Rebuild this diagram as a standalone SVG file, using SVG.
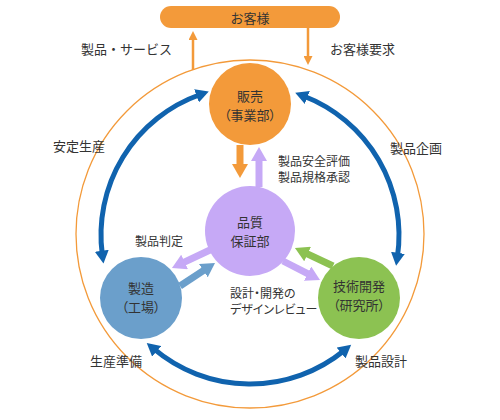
<svg xmlns="http://www.w3.org/2000/svg" width="500" height="420" viewBox="0 0 500 420">
<style>
text{font-family:"Noto Sans CJK JP","Noto Sans",sans-serif;fill:#333;dominant-baseline:central}
.lbl{font-size:13px}
.sm{font-size:12px;font-feature-settings:"palt"}
.node{font-size:13px;text-anchor:middle;font-feature-settings:"palt"}
.arc{fill:none;stroke:#1063ae;stroke-width:5}
.thick{stroke-width:7;fill:none}
.thin{stroke:#f39a3a;stroke-width:2.5;fill:none}
</style>
<defs>
<marker id="hArc" markerUnits="userSpaceOnUse" markerWidth="14" markerHeight="14" refX="4" refY="7" orient="auto-start-reverse" viewBox="0 0 14 14"><path d="M0,0 L13,7 L0,14 z" fill="#1063ae"/></marker>
<marker id="hOr" markerUnits="userSpaceOnUse" markerWidth="15" markerHeight="16" refX="5" refY="8" orient="auto" viewBox="0 0 15 16"><path d="M0,0 L14,8 L0,16 z" fill="#f39a3a"/></marker>
<marker id="hPu" markerUnits="userSpaceOnUse" markerWidth="15" markerHeight="16" refX="5" refY="8" orient="auto" viewBox="0 0 15 16"><path d="M0,0 L14,8 L0,16 z" fill="#c6a9f6"/></marker>
<marker id="hBl" markerUnits="userSpaceOnUse" markerWidth="15" markerHeight="16" refX="5" refY="8" orient="auto" viewBox="0 0 15 16"><path d="M0,0 L14,8 L0,16 z" fill="#6b9fcb"/></marker>
<marker id="hGr" markerUnits="userSpaceOnUse" markerWidth="15" markerHeight="16" refX="5" refY="8" orient="auto" viewBox="0 0 15 16"><path d="M0,0 L14,8 L0,16 z" fill="#8cc252"/></marker>
<marker id="hThin" markerUnits="userSpaceOnUse" markerWidth="9" markerHeight="9" refX="3" refY="4.5" orient="auto" viewBox="0 0 9 9"><path d="M0,0 L9,4.5 L0,9 z" fill="#f39a3a"/></marker>
</defs>

<circle cx="250" cy="234" r="174" fill="none" stroke="#f39a3a" stroke-width="1.3"/>

<g id="customer">
<rect x="160" y="6" width="180" height="22" rx="11" fill="#f39a3a"/>
<text x="250" y="17" class="lbl" text-anchor="middle">お客様</text>
</g>

<g id="connectors">
<path class="thin" d="M193,70 V37" marker-end="url(#hThin)"/>
<path class="thin" d="M308,28 V59" marker-end="url(#hThin)"/>
<path class="arc" d="M200.3,94.5 A149,149 0 0 0 102.3,254.7" marker-start="url(#hArc)" marker-end="url(#hArc)"/>
<path class="arc" d="M303.6,96 A149,149 0 0 1 397.4,256.8" marker-start="url(#hArc)" marker-end="url(#hArc)"/>
<path class="arc" d="M153.6,348.7 A149,149 0 0 0 344.2,350.5" marker-start="url(#hArc)" marker-end="url(#hArc)"/>
<path class="thick" stroke="#f39a3a" d="M240,145 V169" marker-end="url(#hOr)"/>
<path class="thick" stroke="#c6a9f6" d="M259,187 V156" marker-end="url(#hPu)"/>
<path class="thick" stroke="#c6a9f6" d="M210,250 L180.1,264.1" marker-end="url(#hPu)"/>
<path class="thick" stroke="#6b9fcb" d="M180,286 L207.5,267.9" marker-end="url(#hBl)"/>
<path class="thick" stroke="#8cc252" d="M333,266 L303.1,251.9" marker-end="url(#hGr)"/>
<path class="thick" stroke="#c6a9f6" d="M283,261 L312,275.9" marker-end="url(#hPu)"/>
</g>

<g id="sales">
<circle cx="250" cy="104" r="41" fill="#f39a3a"/>
<text class="node"><tspan x="250" y="95">販売</tspan><tspan x="250" y="114">（事業部）</tspan></text>
</g>
<g id="qa">
<circle cx="250" cy="231" r="45" fill="#c6a9f6"/>
<text class="node"><tspan x="250" y="221">品質</tspan><tspan x="250" y="240">保証部</tspan></text>
</g>
<g id="mfg">
<circle cx="141" cy="298" r="41" fill="#6b9fcb"/>
<text class="node"><tspan x="141" y="287">製造</tspan><tspan x="141" y="306">（工場）</tspan></text>
</g>
<g id="tech">
<circle cx="359" cy="298" r="41" fill="#8cc252"/>
<text class="node"><tspan x="359" y="285">技術開発</tspan><tspan x="359" y="304">（研究所）</tspan></text>
</g>

<g id="labels">
<text x="81" y="48" class="lbl">製品・サービス</text>
<text x="330" y="48" class="lbl">お客様要求</text>
<text x="53" y="145" class="lbl">安定生産</text>
<text x="390" y="147" class="lbl">製品企画</text>
<text x="90" y="360" class="lbl">生産準備</text>
<text x="355" y="360" class="lbl">製品設計</text>
<text class="sm"><tspan x="278" y="160">製品安全評価</tspan><tspan x="278" y="176">製品規格承認</tspan></text>
<text x="135" y="240" class="sm">製品判定</text>
<text class="sm"><tspan x="230" y="292">設計・開発の</tspan><tspan x="230" y="308">デザインレビュー</tspan></text>
</g>
</svg>
